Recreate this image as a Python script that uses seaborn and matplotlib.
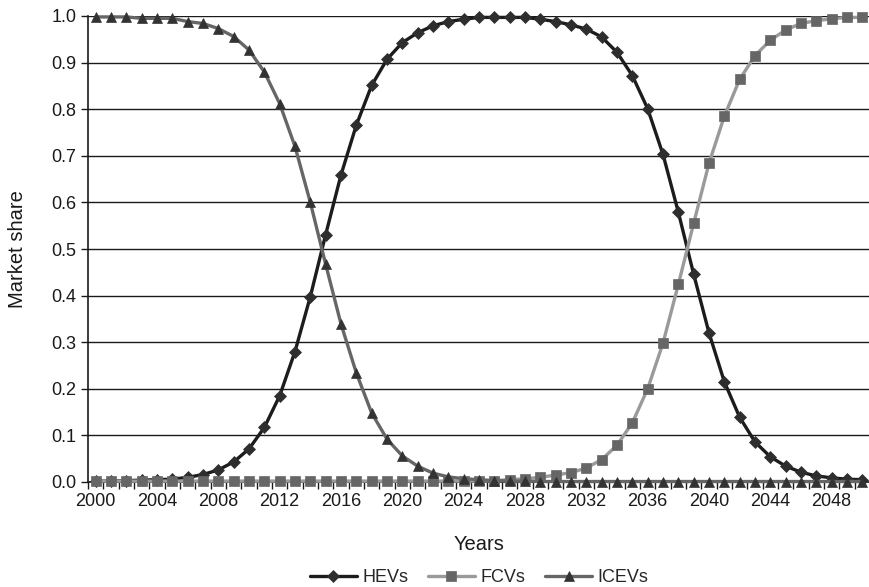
import numpy as np
import pandas as pd
import matplotlib
matplotlib.use("Agg")
import matplotlib.pyplot as plt
from matplotlib.ticker import FixedLocator, FuncFormatter
import seaborn as sns

years = list(range(2000, 2051))

hevs = [0.002, 0.002, 0.003, 0.004, 0.005, 0.006, 0.010, 0.016, 0.026, 0.043,
        0.071, 0.117, 0.185, 0.280, 0.398, 0.531, 0.659, 0.766, 0.851, 0.907,
        0.943, 0.964, 0.979, 0.988, 0.993, 0.997, 0.997, 0.997, 0.997, 0.993,
        0.988, 0.981, 0.972, 0.955, 0.922, 0.872, 0.801, 0.703, 0.579, 0.446,
        0.320, 0.215, 0.139, 0.086, 0.054, 0.034, 0.021, 0.013, 0.009, 0.006,
        0.005]

fcvs = [0.002, 0.002, 0.002, 0.002, 0.002, 0.002, 0.002, 0.002, 0.002, 0.002,
        0.002, 0.002, 0.002, 0.002, 0.002, 0.002, 0.002, 0.002, 0.002, 0.002,
        0.002, 0.002, 0.002, 0.002, 0.002, 0.002, 0.003, 0.005, 0.007, 0.010,
        0.015, 0.020, 0.030, 0.048, 0.079, 0.127, 0.200, 0.298, 0.424, 0.555,
        0.684, 0.785, 0.864, 0.915, 0.948, 0.970, 0.984, 0.990, 0.994, 0.997,
        0.997]

icevs = [0.998, 0.998, 0.998, 0.995, 0.995, 0.995, 0.988, 0.984, 0.973, 0.956,
         0.927, 0.880, 0.812, 0.720, 0.600, 0.467, 0.339, 0.234, 0.148, 0.092,
         0.056, 0.034, 0.019, 0.011, 0.007, 0.005, 0.003, 0.002, 0.002, 0.001,
         0.001, 0.001, 0.001, 0.001, 0.001, 0.001, 0.001, 0.001, 0.001, 0.001,
         0.001, 0.001, 0.001, 0.001, 0.001, 0.001, 0.001, 0.001, 0.001, 0.001,
         0.001]

xtick_labels = [str(y) for y in range(2000, 2049, 4)]
ytick_values = [round(0.1 * i, 1) for i in range(11)]

sns.set_theme(style="white")
plt.rcParams['font.family'] = ['Liberation Sans', 'DejaVu Sans']

fig = plt.figure(figsize=(8.7, 5.87), dpi=100)
ax = fig.add_axes([88 / 870, 1 - 482 / 587, 1 - 88 / 870, (482 - 16) / 587])

series = [
    ("HEVs", hevs, "#1c1c1c", "D", "#2e2e2e", 6.5),
    ("FCVs", fcvs, "#9a9a9a", "s", "#666666", 6.5),
    ("ICEVs", icevs, "#666666", "^", "#333333", 7.5),
]
for name, vals, lc, mk, mc, ms in series:
    df = pd.DataFrame({"Years": years, "Market share": vals})
    sns.lineplot(data=df, x="Years", y="Market share", ax=ax, color=lc,
                 linewidth=2.4, marker=mk, markersize=ms,
                 markerfacecolor=mc, markeredgecolor=mc, markeredgewidth=0.5,
                 label=name, clip_on=False, zorder=3)

ax.set_xlim(1999.5, 2050.5)
ax.set_ylim(0, 1.0)

ax.xaxis.set_major_locator(FixedLocator([int(t) for t in xtick_labels]))
ax.set_xticklabels(xtick_labels)
ax.xaxis.set_minor_locator(FixedLocator([y - 0.5 for y in years] + [2050.5]))
ax.tick_params(axis="x", which="major", length=0, labelsize=13, pad=8, colors="#1a1a1a")
ax.tick_params(axis="x", which="minor", length=5, width=1, direction="out",
               color="#1a1a1a", bottom=True)
ax.set_yticks(ytick_values)
ax.yaxis.set_major_formatter(FuncFormatter(lambda v, p: f"{v:.1f}"))
ax.tick_params(axis="y", which="major", length=5, width=1, direction="out",
               labelsize=13, color="#1a1a1a", left=True, labelcolor="#1a1a1a")

ax.grid(axis="y", color="#1a1a1a", linewidth=1.0)
ax.grid(axis="x", visible=False)
ax.set_axisbelow(True)

for s in ["top", "right"]:
    ax.spines[s].set_visible(False)
for s in ["left", "bottom"]:
    ax.spines[s].set_color("#1a1a1a")
    ax.spines[s].set_linewidth(1.2)

ax.set_xlabel("Years", fontsize=14.5, color="#1a1a1a", labelpad=18)
ax.set_ylabel("Market share", fontsize=14.5, color="#1a1a1a", labelpad=17)

ax.legend(loc="center", bbox_to_anchor=(0.5, -0.205), ncol=3, frameon=False,
          fontsize=13, handlelength=2.6, columnspacing=1.1, handletextpad=0.3)

fig.savefig("out.png", dpi=100)
